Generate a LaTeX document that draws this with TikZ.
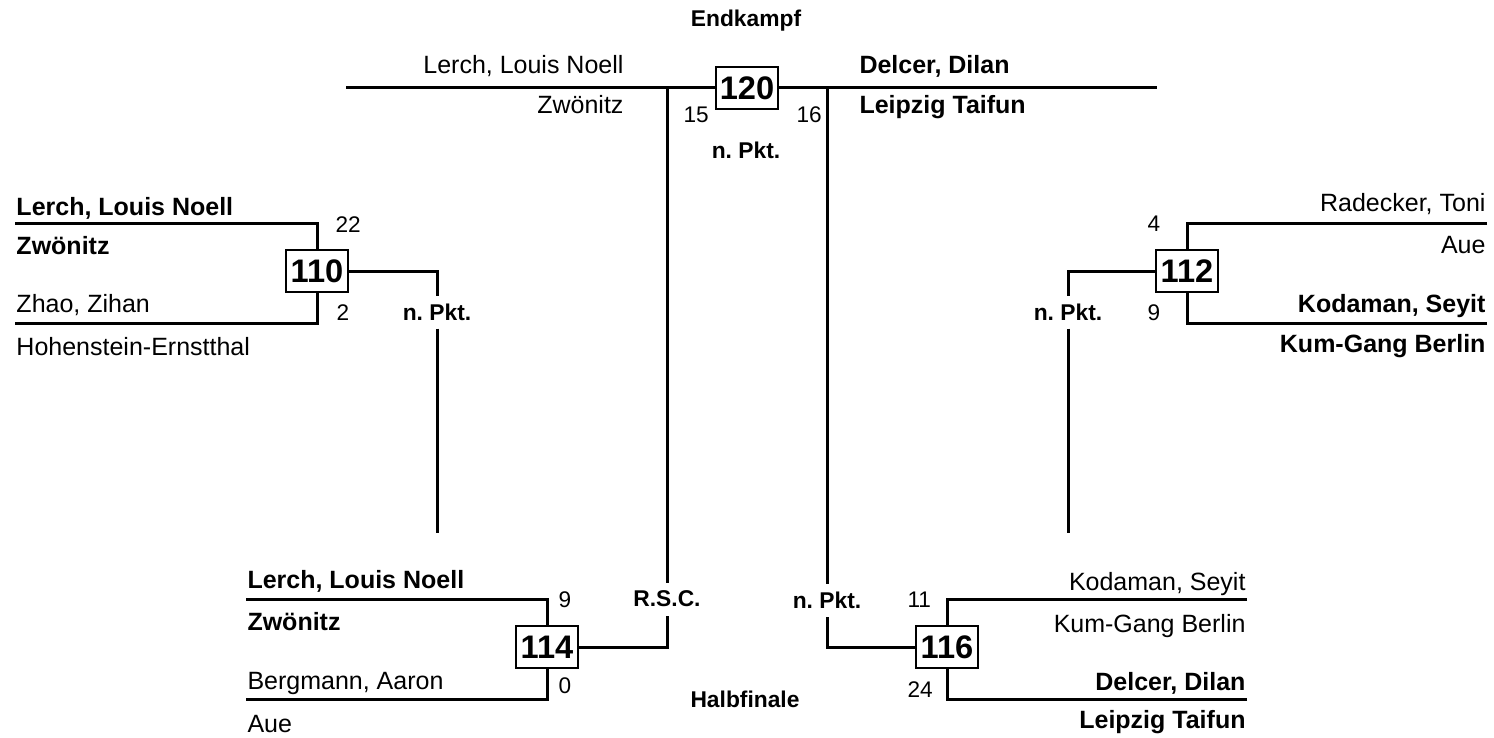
\documentclass[tikz,border=0pt]{standalone}
\usepackage{fontspec}
\setmainfont{Liberation Sans}
\frenchspacing
\usetikzlibrary{
	positioning
}
\tikzset{default node/.style={
	inner sep=0mm,
	font=\fontsize{12.5}{15}\selectfont,
}}
\tikzset{
	bout/.style={
		draw
		,line width=.75pt
		,fill=white
		,minimum width=31pt
		,minimum height=21pt
		,font=\fontsize{16.3}{19}\selectfont\bfseries
	},
	points/.style={
		anchor=base west
		,font=\fontsize{11.3}{13}\selectfont
	},
	decision/.style={
		minimum height=15pt
		,font=\fontsize{11.4}{13}\selectfont\bfseries
	},
	winner/.style={
		font=\fontsize{12.5}{15}\selectfont\bfseries
	}
}
\tikzset{
	every node/.style={default node}
	,every picture/.append style={line width=1.5pt, black}
}
\begin{document}
\begin{tikzpicture}[x=0.5pt, y=-0.5pt]
\useasboundingbox (0,0) rectangle (1494,738);

% Endkampf
\node(end) [decision, anchor=base] at(746,27){Endkampf};
\coordinate(f1) at(346,88);
\coordinate(f2) at(1157,88);
\coordinate(q114) at(667,88);
\coordinate(q116) at(827,88);
\draw (f1) -- (f2);
\node(m120) [bout] at(747,88){120};
\node(f1n) [anchor=base east] at(625,74){Lerch, Louis Noell};
\node(f1c) [anchor=base east] at(625,113){Zwönitz};
\node(f2n) [winner, anchor=base west] at(858,74){Delcer, Dilan};
\node(f2c) [winner, anchor=base west] at(858,113){Leipzig Taifun};
\node(s120a) [points] at(682,123){15};
\node(s120b) [points] at(795,123){16};
\node(r120) [decision, anchor=base] at(746,158){n. Pkt.};

% Viertelfinale
\coordinate(a110) at(15,223);
\coordinate(b110) at(15,323);
\coordinate(a112) at(1487,223);
\coordinate(b112) at(1487,323);
\coordinate(e110) at(437,533);
\coordinate(e112) at(1068,533);
\node(m110) [bout] at(317,271){110};
\node(m112) [bout] at(1187,271){112};

\node(n110a) [winner, anchor=base west] at(15,215){Lerch, Louis Noell};
\node(c110a) [winner, anchor=base west] at(15,254){Zwönitz};
\node(n110b) [anchor=base west] at(15,312){Zhao, Zihan};
\node(c110b) [anchor=base west] at(15,355){Hohenstein-Ernstthal};
\node(s110a) [points] at(334,232){22};
\node(s110b) [points] at(335,320){2};
\node(r110) [decision] at(437,312){n. Pkt.};

\node(n112a) [anchor=base east] at(1487,212){Radecker, Toni};
\node(c112a) [anchor=base east] at(1487,253){Aue};
\node(n112b) [winner, anchor=base east] at(1487,312){Kodaman, Seyit};
\node(c112b) [winner, anchor=base east] at(1487,352){Kum-Gang Berlin};
\node(s112a) [points] at(1146,231){4};
\node(s112b) [points] at(1146,320){9};
\node(r112) [decision] at(1068,312){n. Pkt.};

% Halbfinale
\coordinate(a114) at(246,599);
\coordinate(b114) at(246,699);
\coordinate(a116) at(1247,599);
\coordinate(b116) at(1247,699);
\node(m114) [bout] at(547,647){114};
\node(m116) [bout] at(947,647){116};

\node(n114a) [winner, anchor=base west] at(246,588){Lerch, Louis Noell};
\node(c114a) [winner, anchor=base west] at(246,630){Zwönitz};
\node(n114b) [anchor=base west] at(246,689){Bergmann, Aaron};
\node(c114b) [anchor=base west] at(246,732){Aue};
\node(s114a) [points] at(557,607){9};
\node(s114b) [points] at(557,693){0};
\node(r114) [decision] at(667,599){R.S.C.};

\node(n116a) [anchor=base east] at(1247,590){Kodaman, Seyit};
\node(c116a) [anchor=base east] at(1247,632){Kum-Gang Berlin};
\node(n116b) [winner, anchor=base east] at(1247,690){Delcer, Dilan};
\node(c116b) [winner, anchor=base east] at(1247,728){Leipzig Taifun};
\node(s116a) [points] at(906,607){11};
\node(s116b) [points] at(906,697){24};
\node(r116) [decision] at(827,600){n. Pkt.};

\node(half) [decision, anchor=base] at(745,707){Halbfinale};

\foreach \m in {110, 112, 114, 116}{
	\draw (a\m) -| (m\m.north);
	\draw (b\m) -| (m\m.south);
}

\draw (m110.east) -| (r110.north);
\draw (m112.west) -| (r112.north);
\draw (m114.east) -| (r114.south);
\draw (m116.west) -| (r116.south);

\foreach \x/\y in {%
r110/e110, r112/e112%
,r114/q114, r116/q116%
}{
	\draw (\x) -- (\y);
}
\end{tikzpicture}
\end{document}
